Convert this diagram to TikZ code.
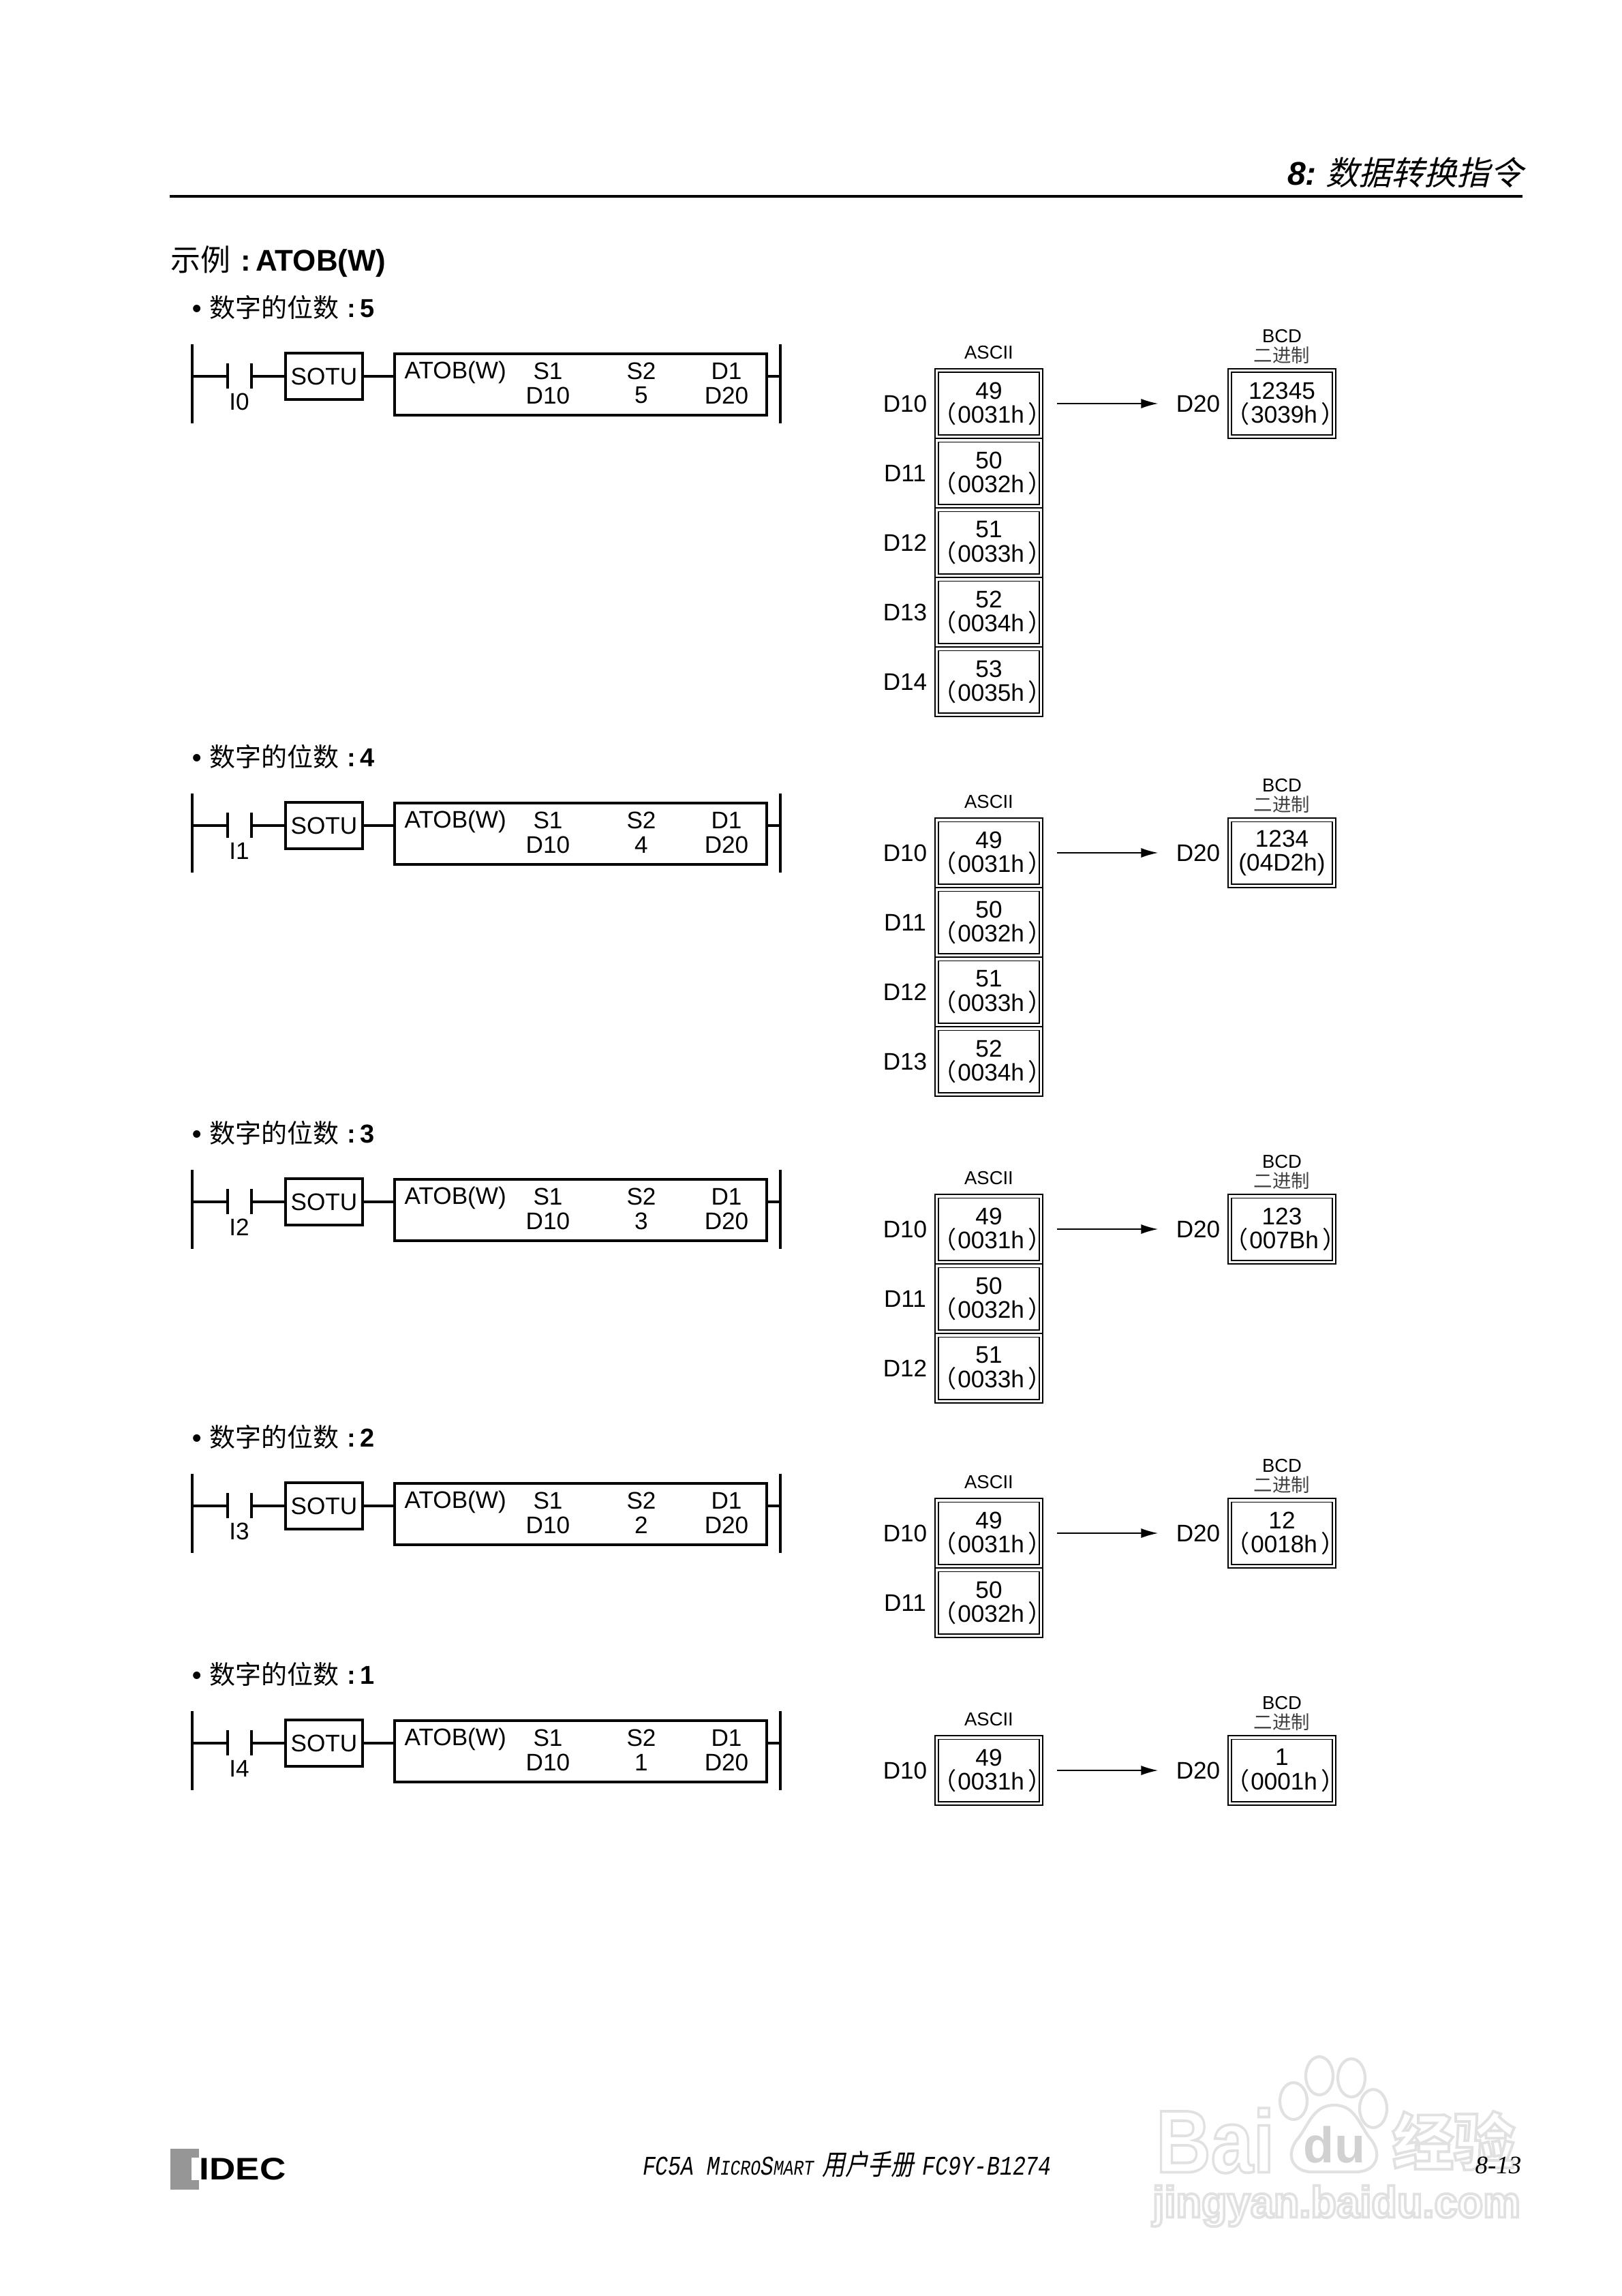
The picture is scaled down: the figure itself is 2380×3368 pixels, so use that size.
\documentclass[tikz,border=0pt]{standalone}
\usepackage{fontspec}
\setmainfont{Liberation Sans}
\newfontfamily\cjk{Noto Sans CJK SC}
\newfontfamily\cjkit[FakeSlant=0.25]{Noto Sans CJK SC}
\newfontfamily\footmono{Liberation Mono}
\newfontfamily\pagefont{Liberation Serif}
\usetikzlibrary{arrows.meta}
\usetikzlibrary{math}
\newcommand{\lp}{\hspace*{-.36em}{\cjk（}\hspace*{.05em}}
\newcommand{\rp}{\hspace*{.16em}{\cjk）}\hspace*{-.65em}}
\newcommand{\fsz}[1]{\fontsize{#1}{#1}\selectfont}
\newcommand{\outlined}[1]{\special{pdf:code q 1 Tr 1.1 w}#1\special{pdf:code Q}}
\definecolor{logogray}{RGB}{150,150,150}
\definecolor{wmline}{RGB}{225,225,225}
\tikzset{
  ladderline/.style={line width=1pt},
  plain/.style={inner sep=0pt,font=\fsz{10}},
  small/.style={inner sep=0pt,font=\fsz{7.8}},
  sotubox/.style={draw,ladderline,inner sep=0pt,minimum width=1.13cm,minimum height=0.68cm,font=\fsz{10}},
  fnbox/.style={draw,ladderline,inner sep=0pt,minimum width=5.46cm,minimum height=0.90cm},
  regbox/.style={draw,line width=0.45pt,double,double distance=1pt,inner sep=0pt,minimum width=1.525cm,minimum height=0.965cm,align=center,font=\fsz{10}},
  headtext/.style={inner sep=0pt,anchor=west,font=\fsz{10.8}},
}
\begin{document}
\begin{tikzpicture}[x=0.01cm,y=-0.01cm]
\useasboundingbox (0,0) rectangle (2380,3368);
\tikzmath{
\railL=282;
\railR=1145;
\boxx=1451;
\binx=1881;
\pitch=102;
}
%watermark
\foreach \wname/\wx/\wy/\wsize/\wxs/\wtext in {bai/1783/3140/37/0.86/Bai,jing/2133/3140/25.6/1/{\cjk 经验},site/1961/3236/18.3/0.955/jingyan.baidu.com}{
  \node[inner sep=0pt,text=wmline,transform shape,xscale=\wxs,font={\fsz{\wsize}\bfseries}] (wm\wname) at (\wx,\wy) {\outlined{\wtext}};
}
\draw[wmline,line width=1.2pt] (1898,3082) ellipse (20 and 27);
\draw[wmline,line width=1.2pt] (1936,3045) ellipse (20 and 28);
\draw[wmline,line width=1.2pt] (1983,3048) ellipse (20 and 28);
\draw[wmline,line width=1.2pt] (2015,3093) ellipse (20 and 28);
\draw[wmline,line width=1.2pt] (1958,3088) .. controls (1925,3088) and (1920,3120) .. (1902,3140) .. controls (1885,3165) and (1900,3186) .. (1925,3186) -- (1990,3186) .. controls (2015,3186) and (2030,3165) .. (2013,3140) .. controls (1995,3120) and (1990,3088) .. (1958,3088) -- cycle;
\node[inner sep=0pt,text=black!18,font={\fsz{21}\bfseries}] (wmdu) at (1958,3146) {du};

%header
\node[inner sep=0pt,anchor=east,font=\fsz{13.7}] (pagehead) at (2235,253) {\bfseries\itshape 8:\ {\cjkit\mdseries 数据转换指令}};
\draw[line width=1.15pt] (249,288) coordinate (headl) -- (2234,288) coordinate (headr);
\node[inner sep=0pt,anchor=west,font=\fsz{12.5}] (exampletitle) at (250,384) {{\cjk 示例}\,\textbf{\,:\,ATOB(W)}};

\foreach \r/\y/\n/\bin/\hex in {0/552/5/12345/{\lp 3039h\rp},1/1211/4/1234/{(04D2h)},2/1763/3/123/{\lp 007Bh\rp},3/2209/2/12/{\lp 0018h\rp},4/2557/1/1/{\lp 0001h\rp}}{
 %heading
 \node[headtext] (digits\r) at (282,\y-101) {\textbf{•}\hspace{.3em}{\cjk 数字的位数}\textbf{\,\,:\,\n}};
 %ladder
 \draw[ladderline] (\railL,\y-47) coordinate (rl\r a) -- (\railL,\y+69) coordinate (rl\r b);
 \draw[ladderline] (\railR,\y-47) coordinate (rr\r a) -- (\railR,\y+69) coordinate (rr\r b);
 \coordinate (rl\r) at (\railL,\y);
 \coordinate (rr\r) at (\railR,\y);
 \coordinate (ca\r) at (334,\y);
 \coordinate (cb\r) at (369,\y);
 \draw[ladderline] (334,\y-19) -- (334,\y+18);
 \draw[ladderline] (369,\y-19) -- (369,\y+18);
 \node[plain] (inp\r) at (351,\y+37) {I\r};
 \node[sotubox] (sotu\r) at (475.5,\y) {SOTU};
 \node[fnbox,anchor=north west] (fn\r) at (577,\y-35) {};
 \node[plain,anchor=west] (fnname\r) at (593,\y-6) {ATOB(W)};
 \node[plain] (sa\r) at (804,\y-8) {S1};
 \node[plain] (sb\r) at (941,\y-8) {S2};
 \node[plain] (da\r) at (1066,\y-8) {D1};
 \node[plain] (va\r) at (804,\y+28) {D10};
 \node[plain] (vb\r) at (941,\y+28) {\n};
 \node[plain] (vc\r) at (1066,\y+28) {D20};
 \draw[ladderline] (rl\r) -- (ca\r);
 \draw[ladderline] (cb\r) -- (sotu\r.west);
 \draw[ladderline] (sotu\r.east) -- (fn\r.west |- sotu\r.east);
 \draw[ladderline] (fn\r.east |- rr\r) -- (rr\r);
 %registers
 \node[small] (ascii\r) at (\boxx,\y-35) {ASCII};
 \node[small] (bcd\r) at (\binx,\y-59) {BCD};
 \node[small,font={\fsz{7.8}\cjk},text=black!75] (bin\r) at (\binx,\y-31) {二进制};
 \foreach \i in {1,...,\n}{
   \pgfmathtruncatemacro{\val}{48+\i}
   \pgfmathtruncatemacro{\reg}{\i-1}
   \pgfmathsetmacro{\yy}{\y+40+(\i-1)*\pitch}
   \node[regbox] (box\r-\i) at (\boxx,\yy) {\val\\\lp 003\i h\rp};
   \node[plain] (lab\r-\i) at (1328,\yy) {D1\reg};
 }
 \node[plain] (dst\r) at (1758,\y+40) {D20};
 \node[regbox] (res\r) at (\binx,\y+40) {\bin\\\hex};
 \draw[line width=0.4pt,-{Latex[length=7pt,width=4pt]},shorten <=6.6pt,shorten >=7.4pt] (box\r-1) -- (dst\r);
}

%footer
\fill[logogray] (250,3152) rectangle (292,3212);
\fill[white] (281,3165) rectangle (292,3198);
\node[inner sep=0pt,anchor=west,transform shape,xscale=1.16,font={\fsz{13}\bfseries}] (logo) at (292,3181.5) {IDEC};
\node[inner sep=0pt,transform shape,yscale=1.25,font=\fsz{9}] (manual) at (1243,3175) {\footmono\itshape FC5A M{\fsz{7}ICRO}S{\fsz{7}MART}\hspace{.4em}{\cjkit\upshape\fsz{9.5}用户手册}\hspace{.4em}FC9Y-B1274};
\node[inner sep=0pt,anchor=east,font=\fsz{10.5}] (pageno) at (2233,3176) {\pagefont\itshape 8-13};
\end{tikzpicture}
\end{document}
